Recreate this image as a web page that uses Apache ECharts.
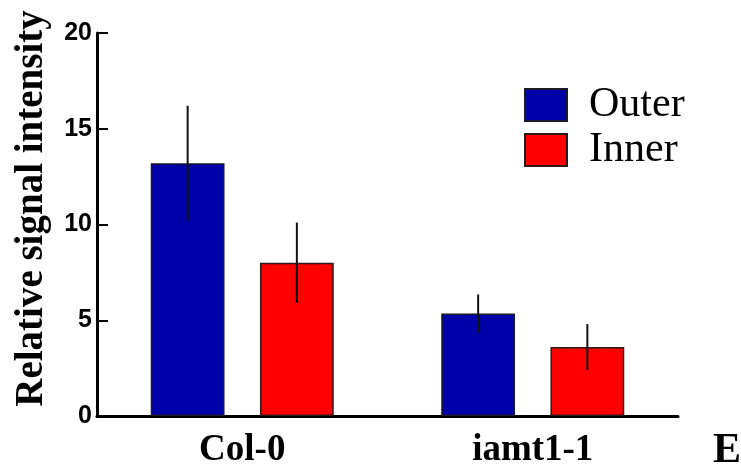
<!DOCTYPE html>
<html>
<head>
<meta charset="utf-8">
<script src="https://cdn.jsdelivr.net/npm/echarts@6/dist/echarts.min.js"></script>
<style>
  html, body { margin: 0; padding: 0; background: #fff; }
  #main { width: 741px; height: 475px; }
</style>
</head>
<body>
<div id="main"></div>
<script>
// values
var categories = ['Col-0', 'iamt1-1'];
var outerMean = [13.2, 5.35];
var outerErr = [3.0, 1.0];
var innerMean = [8.0, 3.6];
var innerErr = [2.1, 1.2];
var yTicks = [0, 5, 10, 15, 20];

var catGap = 0.37, barGap = 0.48;
var serif = '"Liberation Serif", "Times New Roman", serif';

function errData(mean, err) {
  return mean.map(function (m, i) { return [i, m, m - err[i], m + err[i]]; });
}

// error bar drawn as a plain vertical line, shifted to its bar inside the group
function errRender(side) {
  return function (params, api) {
    var ci = api.value(0);
    var lo = api.coord([ci, api.value(2)]);
    var hi = api.coord([ci, api.value(3)]);
    var band = api.size([1, 0])[0];
    var bw = band * (1 - catGap) / (2 + barGap);
    var dx = side * bw * (1 + barGap) / 2;
    return {
      type: 'line',
      shape: { x1: lo[0] + dx, y1: hi[1], x2: lo[0] + dx, y2: lo[1] },
      style: { stroke: '#111', lineWidth: 2 }
    };
  };
}

var myChart = echarts.init(document.getElementById('main'));
var option = {
  animation: false,
  grid: { left: 97, right: 63, top: 33, bottom: 59 },
  legend: {
    data: ['Outer', 'Inner'],
    orient: 'vertical',
    left: 519, top: 79,
    itemWidth: 42, itemHeight: 32, itemGap: 3,
    icon: 'rect',
    textStyle: { fontFamily: serif, fontSize: 42, color: '#000', lineHeight: 32, padding: [0, 0, 0, 17] }
  },
  xAxis: {
    type: 'category',
    data: categories,
    axisLine: { lineStyle: { color: '#000', width: 3 } },
    axisTick: { show: false },
    axisLabel: { margin: 16, color: '#000', fontFamily: serif, fontWeight: 'bold', fontSize: 37 }
  },
  yAxis: {
    type: 'value',
    min: yTicks[0], max: yTicks[yTicks.length - 1], interval: 5,
    name: 'Relative signal intensity',
    nameLocation: 'middle',
    nameGap: 46,
    nameTextStyle: { fontFamily: serif, fontWeight: 'bold', fontSize: 39, color: '#000', padding: [0, 0, 0, 32] },
    axisLine: { show: true, lineStyle: { color: '#000', width: 3 } },
    axisTick: { show: true, inside: true, length: 11, lineStyle: { color: '#000', width: 2 } },
    splitLine: { show: false },
    axisLabel: { margin: 5, color: '#000', fontFamily: '"Liberation Sans", Arial, sans-serif', fontWeight: 'bold', fontSize: 25 }
  },
  graphic: [{
    type: 'text',
    x: 727, y: 451,
    style: { text: 'E', align: 'center', verticalAlign: 'middle', font: 'bold 42px "Liberation Serif"', fill: '#000' }
  }],
  series: [
    {
      name: 'Outer', type: 'bar', data: outerMean,
      barCategoryGap: (catGap * 100) + '%', barGap: (barGap * 100) + '%',
      itemStyle: { color: '#0000A8', borderColor: '#1a1a2a', borderWidth: 1.5 }
    },
    {
      name: 'Inner', type: 'bar', data: innerMean,
      barCategoryGap: (catGap * 100) + '%', barGap: (barGap * 100) + '%',
      itemStyle: { color: '#FF0000', borderColor: '#2a1a1a', borderWidth: 1.5 }
    },
    {
      name: 'errOuter', type: 'custom', z: 5,
      renderItem: errRender(-1),
      encode: { x: 0, y: [1, 2, 3] },
      data: errData(outerMean, outerErr)
    },
    {
      name: 'errInner', type: 'custom', z: 5,
      renderItem: errRender(1),
      encode: { x: 0, y: [1, 2, 3] },
      data: errData(innerMean, innerErr)
    }
  ]
};
myChart.setOption(option);
</script>
</body>
</html>
